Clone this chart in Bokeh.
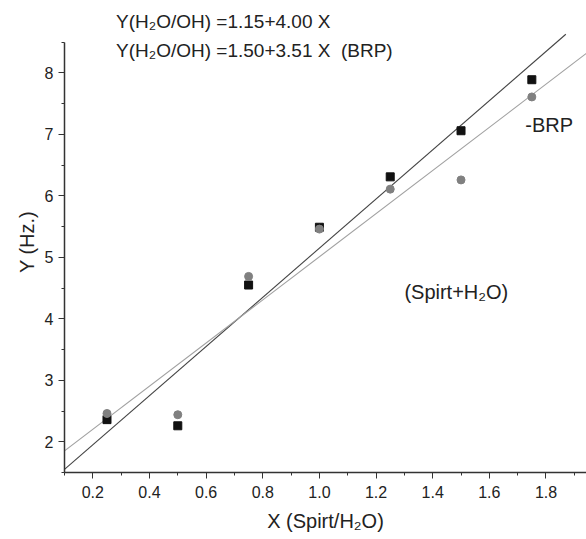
from bokeh.plotting import figure
from bokeh.models import Label, Range1d, NumeralTickFormatter
from bokeh.embed import file_html
from bokeh.resources import INLINE

# data
x_vals = [0.25, 0.5, 0.75, 1.0, 1.25, 1.5, 1.75]
y_h2o = [2.36, 2.26, 4.55, 5.49, 6.31, 7.06, 7.89]
y_brp = [2.46, 2.44, 4.69, 5.46, 6.11, 6.26, 7.61]
fit_h2o = (1.15, 4.00)
fit_brp = (1.50, 3.51)
line_x_h2o = [0.1, 1.87]
line_x_brp = [0.1, 1.95]

FONT = "Liberation Sans"
TXT = "#222222"

p = figure(width=586, height=539, output_backend="svg", toolbar_location=None,
           x_range=Range1d(0.1, 1.943), y_range=Range1d(1.5, 9.0),
           min_border_left=64, min_border_right=0, min_border_top=11, min_border_bottom=67)
p.outline_line_color = None
p.grid.visible = False
p.background_fill_color = "white"
p.border_fill_color = "white"

p.line(line_x_h2o, [fit_h2o[0] + fit_h2o[1] * v for v in line_x_h2o], line_color="#444444", line_width=1.1)
p.line(line_x_brp, [fit_brp[0] + fit_brp[1] * v for v in line_x_brp], line_color="#a0a0a0", line_width=1.1)

p.scatter(x_vals, y_h2o, marker="square", size=8, fill_color="#111111", line_color="#111111")
p.scatter(x_vals, y_brp, marker="circle", size=8, fill_color="#808080", line_color="#808080")

for ax in (p.xaxis[0], p.yaxis[0]):
    ax.axis_line_color = "#333333"
    ax.axis_line_width = 1.5
    ax.major_tick_line_color = "#333333"
    ax.minor_tick_line_color = "#333333"
    ax.major_tick_in = 0
    ax.major_tick_out = 6
    ax.minor_tick_in = 0
    ax.minor_tick_out = 3
    ax.major_label_text_font = FONT
    ax.major_label_text_font_size = "16px"
    ax.major_label_text_color = TXT
    ax.axis_label_text_font = FONT
    ax.axis_label_text_font_size = "20px"
    ax.axis_label_text_font_style = "normal"
    ax.axis_label_text_color = TXT

p.yaxis.bounds = (1.5, 8.5)
p.xaxis.ticker.desired_num_ticks = 9
p.xaxis[0].ticker.num_minor_ticks = 2
p.yaxis[0].ticker.num_minor_ticks = 2
p.xaxis.formatter = NumeralTickFormatter(format="0.0")
p.yaxis.formatter = NumeralTickFormatter(format="0")
p.xaxis.axis_label = "X (Spirt/H\u2082O)"
p.yaxis.axis_label = "Y (Hz.)"
p.xaxis.major_label_standoff = 7
p.xaxis.axis_label_standoff = 9
p.yaxis.major_label_standoff = 5
p.yaxis.axis_label_standoff = 4

def lab(x, y, t, size="19px"):
    p.add_layout(Label(x=x, y=y, text=t, text_font=FONT, text_font_size=size,
                       text_color=TXT, text_baseline="middle", text_align="left"))

lab(0.282, 8.83, "Y(H\u2082O/OH) =1.15+4.00 X")
lab(0.282, 8.36, "Y(H\u2082O/OH) =1.50+3.51 X\u00a0\u00a0(BRP)")
lab(1.727, 7.15, "-BRP", "20px")
lab(1.3, 4.44, "(Spirt+H\u2082O)", "20px")

open("out.html", "w").write(file_html(p, INLINE))
